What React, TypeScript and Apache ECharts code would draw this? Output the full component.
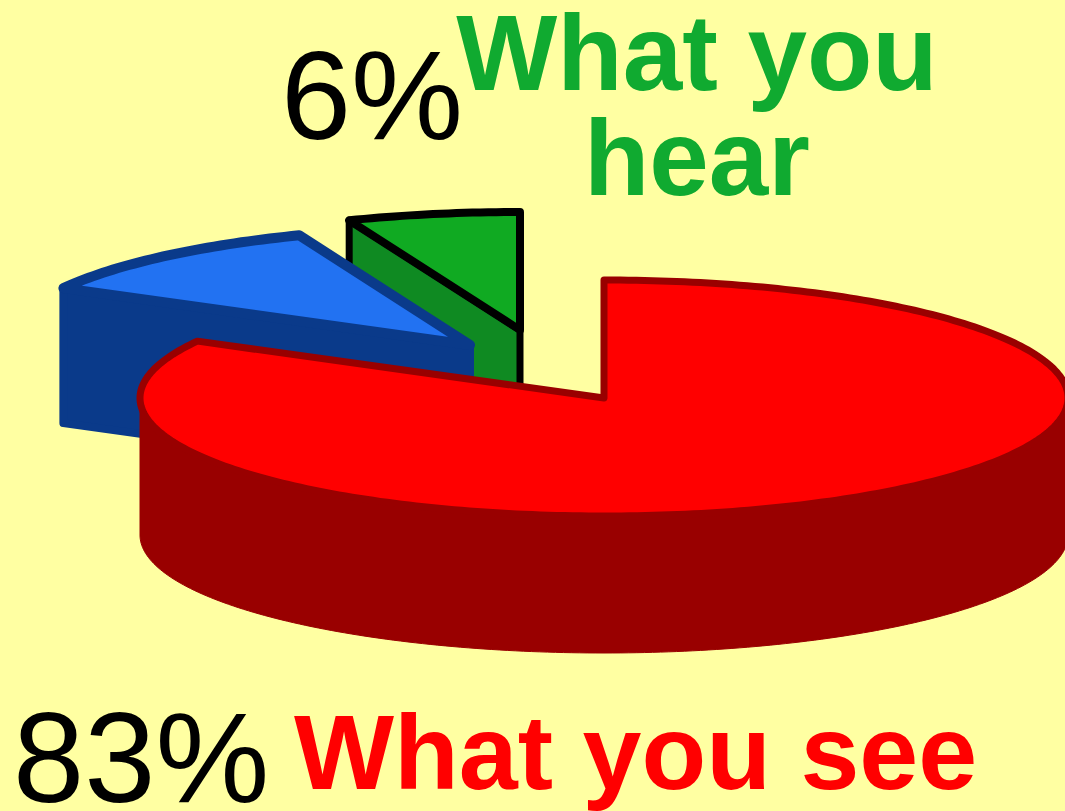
import React, { useEffect, useRef } from "react";
import * as echarts from "echarts";

// Values, clockwise from 12 o'clock (the 11% slice has no label in the picture)
const categories = ["What you see", "Remainder", "What you hear"];
const shares = [83, 11, 6];
const percentLabels = ["6%", "83%"];
const hearLines = "What you\nhear";

// Drawing styles per slice, same order as above
const vertexX = [604, 470, 520];
const vertexY = [398, 345, 330];
const depths = [137, 135, 88];
const stacking = [3, 2, 1];
const topFill = ["#ff0000", "#2272f2", "#10aa22"];
const wallFill = ["#990000", "#0a3a8a", "#0f8a22"];
const edgeColor = ["#990000", "#0a3a8a", "#000000"];
const edgeWidth = [7, 10, 8];
const wallEdgeWidth = [1, 8, 7];

const RX = 464;
const RY = 118;
const DEG = Math.PI / 180;
const BG = "#ffffa2";
const FONT = '"Liberation Sans", Arial, sans-serif';

const total = shares.reduce((s, v) => s + v, 0);

function renderSlice(params: any, api: any) {
  const i = params.dataIndex;
  const share = api.value(0);
  let before = 0;
  for (let k = 0; k < i; k++) before += shares[k];
  const a0 = (before / total) * 360;
  const a1 = ((before + share) / total) * 360;
  const cx = vertexX[i];
  const cy = vertexY[i];
  const d = depths[i];
  const at = (deg: number, dy = 0) => [
    cx + RX * Math.sin(deg * DEG),
    cy - RY * Math.cos(deg * DEG) + dy,
  ];
  const arc = (from: number, to: number, dy = 0) => {
    const pts: number[][] = [];
    const n = Math.max(2, Math.ceil(Math.abs(to - from)));
    for (let k = 0; k <= n; k++) pts.push(at(from + ((to - from) * k) / n, dy));
    return pts;
  };
  const wallStyle = {
    fill: wallFill[i],
    stroke: edgeColor[i],
    lineWidth: wallEdgeWidth[i],
    lineJoin: "round",
  };
  const children: any[] = [];
  const z2 = stacking[i];
  // outer curved wall: only the front half of the rim can be seen
  const w0 = Math.max(a0, 90);
  const w1 = Math.min(a1, 270);
  if (w1 > w0) {
    children.push({
      type: "polygon",
      z2,
      shape: { points: [...arc(w0, w1), ...arc(w1, w0, d)] },
      style: wallStyle,
    });
  }
  // flat cut faces, drawn when they turn towards the viewer
  const faces: [number, number][] = [
    [a0, a0 - 90],
    [a1, a1 + 90],
  ];
  for (const [edge, normal] of faces) {
    if (-Math.cos(normal * DEG) > 0.001) {
      const outer = at(edge);
      children.push({
        type: "polygon",
        z2,
        shape: {
          points: [[cx, cy], outer, [outer[0], outer[1] + d], [cx, cy + d]],
        },
        style: wallStyle,
      });
    }
  }
  // top face
  children.push({
    type: "polygon",
    z2,
    shape: { points: [[cx, cy], ...arc(a0, a1)] },
    style: {
      fill: topFill[i],
      stroke: edgeColor[i],
      lineWidth: edgeWidth[i],
      lineJoin: "round",
    },
  });
  return { type: "group", children };
}

function label(text: string, x: number, y: number, size: number, weight: string, fill: string, align = "left", lineHeight?: number) {
  return {
    type: "text",
    z: 10,
    x,
    y,
    style: {
      text,
      fill,
      font: `${weight} ${size}px ${FONT}`,
      textAlign: align,
      textVerticalAlign: "top",
      ...(lineHeight ? { lineHeight } : {}),
    },
  };
}

export default function App() {
  const ref = useRef<HTMLDivElement>(null);
  useEffect(() => {
    document.body.style.margin = "0";
    document.body.style.background = BG;
    const chart = echarts.init(ref.current!, undefined, { renderer: "svg" });
    chart.setOption({
      animation: false,
      backgroundColor: BG,
      graphic: [
        label(percentLabels[0], 281, 32, 126, "normal", "#000000"),
        label(hearLines, 697, 0, 107, "bold", "#10aa30", "center", 105),
        label(percentLabels[1], 13, 693, 128, "normal", "#000000"),
        label(categories[0], 294, 699, 106, "bold", "#ff0000"),
      ],
      series: [
        {
          type: "custom",
          coordinateSystem: "none",
          silent: true,
          clip: false,
          data: shares.map((v, i) => ({ name: categories[i], value: [v] })),
          renderItem: renderSlice,
        },
      ],
    });
    return () => chart.dispose();
  }, []);
  return <div ref={ref} style={{ width: 1065, height: 811, overflow: "hidden" }} />;
}
